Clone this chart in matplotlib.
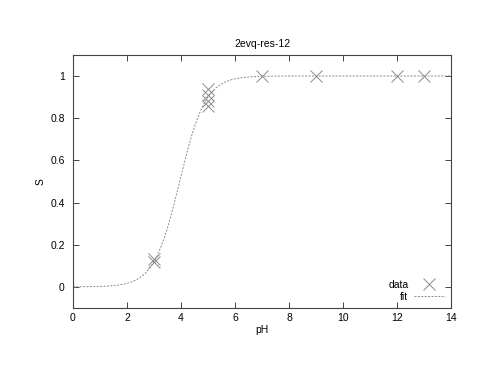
import numpy as np
import matplotlib
matplotlib.use("agg")
import matplotlib.pyplot as plt

ph_data = [3, 3, 5, 5, 5, 5, 7, 9, 12, 13]
s_data = [0.12, 0.13, 0.94, 0.91, 0.88, 0.86, 1.0, 1.0, 1.0, 1.0]

# fitted Hill curve parameters
pka = 3.95
hill_n = 0.91

xticks = [0, 2, 4, 6, 8, 10, 12, 14]
yticks = [0, 0.2, 0.4, 0.6, 0.8, 1]
ytick_labels = ["0", "0.2", "0.4", "0.6", "0.8", "1"]

plt.rcParams["font.family"] = ["Liberation Sans", "DejaVu Sans"]
plt.rcParams["font.size"] = 7.5

fig = plt.figure(figsize=(4.8, 3.71), dpi=100)
ax = fig.add_axes([0.152, 0.17, 0.788, 0.682])

ph_fit = np.linspace(0, 14, 400)
s_fit = 1.0 / (1.0 + 10 ** (hill_n * (pka - ph_fit)))

ax.plot(ph_data, s_data, linestyle="none", marker="x", markersize=9,
        markeredgewidth=0.7, color="#8a8a8a", label="data")
ax.plot(ph_fit, s_fit, linestyle=(0, (2, 1.5)), linewidth=0.7,
        color="#8a8a8a", label="fit")

ax.set_xlim(0, 14)
ax.set_ylim(-0.1, 1.1)
ax.set_xticks(xticks)
ax.set_yticks(yticks)
ax.set_yticklabels(ytick_labels)
ax.tick_params(direction="in", top=True, right=True, length=4,
               width=0.7, color="#444444")
ax.tick_params(axis="x", pad=4)
ax.tick_params(axis="y", pad=6)
for sp in ax.spines.values():
    sp.set_linewidth(0.8)
    sp.set_color("#444444")

ax.set_title("2evq-res-12", fontsize=7.5, pad=6)
ax.set_xlabel("pH", labelpad=1)
ax.set_ylabel("S", labelpad=3)

ax.legend(loc="lower right", markerfirst=False, frameon=False,
          handlelength=3.0, fontsize=7.5, borderaxespad=0.3,
          borderpad=0.3, labelspacing=0.15, handletextpad=0.5)

fig.savefig("out.png", dpi=100)
